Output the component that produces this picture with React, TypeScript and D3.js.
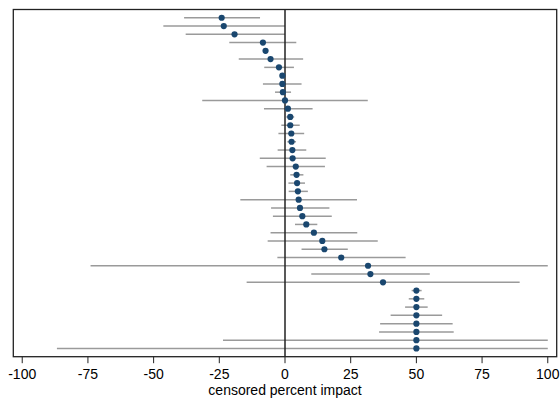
import React from "react";
import * as d3 from "d3";

// point estimates, lower and upper bounds (censored percent impact), top row first
const estimates = [
  -24.1, -23.3, -19.2, -8.4, -7.4, -5.5, -2.3, -1.0, -1.0, -0.8,
  0.0, 1.1, 2.0, 2.0, 2.4, 2.5, 2.8, 2.9, 4.1, 4.4,
  4.6, 4.9, 5.2, 5.7, 6.6, 8.1, 11.0, 14.2, 15.0, 21.4,
  31.6, 32.5, 37.3, 50, 50, 50, 50, 50, 50, 50, 50,
];
const lower = [
  -38.4, -46.3, -37.8, -21.2, -8.3, -17.6, -7.9, -2.0, -8.4, -3.8,
  -31.5, -8.0, 0.5, -1.4, -2.5, 0.9, -2.8, -9.6, -7.0, 2.0,
  1.3, 1.4, -17.0, -5.3, -4.6, 3.8, -5.5, -6.6, 6.3, -2.9,
  -74.0, 10.0, -14.6, 48.2, 47.1, 45.7, 40.2, 36.2, 35.8, -23.6, -86.8,
];
const upper = [
  -9.5, 0, 0, 4.3, -6.5, 6.9, 3.4, 0.0, 6.3, 2.3,
  31.5, 10.5, 3.5, 5.6, 7.3, 4.2, 8.1, 15.5, 15.2, 7.0,
  7.6, 8.7, 27.4, 16.9, 17.8, 12.3, 27.5, 35.3, 23.9, 45.9,
  100, 55.1, 89.3, 52.0, 53.0, 54.3, 59.8, 63.8, 64.2, 100, 100,
];
const xTicks = [-100, -75, -50, -25, 0, 25, 50, 75, 100];
const xTitle = "censored percent impact";

const W = 560;
const H = 400;
const frame = { left: 13.3, right: 556.7, top: 9.5, bottom: 356.7 };

export default function App() {
  const x = d3.scaleLinear().domain([-103.4, 103.4]).range([frame.left, frame.right]);
  const n = estimates.length;
  const y = d3.scaleLinear().domain([0, n + 1]).range([frame.top, frame.bottom]);
  const font = "'Liberation Sans', Arial, sans-serif";

  return (
    <svg
      width={W}
      height={H}
      style={{ position: "absolute", left: 0, top: 0, background: "#fff" }}
    >
      <rect x={0} y={0} width={W} height={H} fill="#fff" />
      {/* CI lines */}
      {estimates.map((_, i) => (
        <line
          key={"ci" + i}
          x1={x(lower[i])}
          x2={x(upper[i])}
          y1={y(i + 1)}
          y2={y(i + 1)}
          stroke="#9a9a9a"
          strokeWidth={1.5}
        />
      ))}
      {/* zero line */}
      <line
        x1={x(0)}
        x2={x(0)}
        y1={frame.top}
        y2={frame.bottom}
        stroke="#222"
        strokeWidth={1.5}
      />
      {/* points */}
      {estimates.map((v, i) => (
        <circle key={"pt" + i} cx={x(v)} cy={y(i + 1)} r={3.1} fill="#1a476f" />
      ))}
      {/* frame */}
      <rect
        x={frame.left}
        y={frame.top}
        width={frame.right - frame.left}
        height={frame.bottom - frame.top}
        fill="none"
        stroke="#222"
        strokeWidth={1.3}
      />
      {/* x axis ticks */}
      {xTicks.map((t) => (
        <g key={"t" + t}>
          <line
            x1={x(t)}
            x2={x(t)}
            y1={frame.bottom}
            y2={frame.bottom + 6.5}
            stroke="#222"
            strokeWidth={1}
          />
          <text
            x={x(t)}
            y={378.5}
            textAnchor="middle"
            fontFamily={font}
            fontSize={14}
            fill="#000"
          >
            {t}
          </text>
        </g>
      ))}
      <text
        x={x(0)}
        y={395}
        textAnchor="middle"
        fontFamily={font}
        fontSize={14}
        fill="#000"
      >
        {xTitle}
      </text>
    </svg>
  );
}
